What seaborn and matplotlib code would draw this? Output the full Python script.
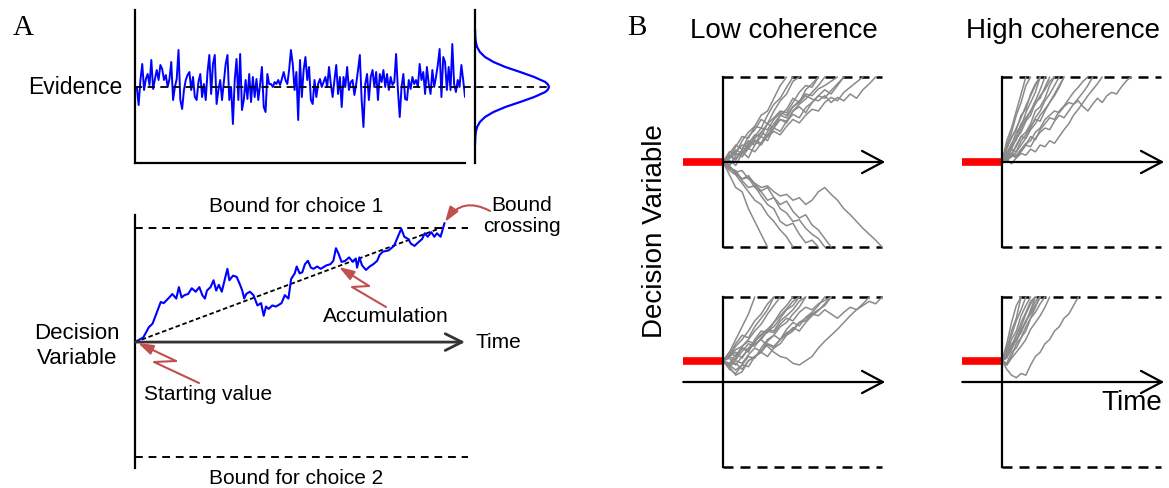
import numpy as np
import pandas as pd
import matplotlib
matplotlib.use("Agg")
import matplotlib.pyplot as plt
from matplotlib.patches import FancyArrowPatch
import seaborn as sns

W, H = 1169, 488

# ---------------- data ----------------
# panel A, momentary evidence (units of ~10 px, 0 = dashed line)
evidence = [
    0.0, -1.8, 0.7, 2.3, -0.3, 0.8, 1.3, 0.2, 2.7, -0.2,
    0.8, 1.7, 0.7, 2.2, 1.8, 0.7, 1.2, 0.0, 0.8, 2.5,
    -1.3, 0.0, 0.8, 3.7, -1.3, -2.2, -0.3, 0.7, 1.2, 1.5,
    -0.3, 1.0, -1.0, -1.3, 0.5, 1.3, -1.0, 0.3, -1.3, 1.5,
    3.2, -0.7, 2.3, 3.2, -1.7, -0.3, 0.7, -1.3, 0.5, 2.3,
    3.2, -1.3, 0.0, -3.7, 0.7, 2.8, -1.3, 3.3, -2.3, -1.3,
    0.7, -1.2, 1.3, -1.5, 1.0, -1.0, 0.8, -1.3, 0.3, 2.0,
    -2.0, -2.5, 1.3, 0.3, 0.3, 0.0, 0.5, 0.3, 0.7, 0.2,
    0.8, 1.5, 0.7, 0.3, 1.7, 3.7, 2.3, -0.3, 1.5, -3.3,
    2.7, -1.0, 1.7, 3.0, 0.7, 2.0, -1.3, -1.7, 0.7, -1.0,
    0.3, 0.8, 0.0, 0.5, 1.0, 0.0, 2.0, 0.3, -1.0, 0.7,
    2.2, -0.7, 1.0, -2.0, 1.0, 0.0, 2.0, -0.3, 0.5, 0.7,
    -0.8, 0.3, 1.7, 3.2, -1.3, -4.0, 0.3, 1.3, -1.3, 1.0,
    1.7, 0.0, 1.5, -1.3, 1.3, 0.5, 1.7, 0.0, 1.3, -0.3,
    1.0, 0.2, 0.5, 3.3, -0.3, -3.0, 0.0, 1.3, -1.2, -1.3,
    0.7, -0.2, 1.0, 0.3, 0.7, 0.0, 2.3, 0.7, 1.5, -0.7,
    2.0, 0.3, -0.7, 1.7, 0.0, 1.0, 2.2, 3.8, -1.0, 3.0,
    2.5, -0.3, 2.0, -0.3, 4.3, 0.3, -0.5, 0.7, 0.0, 2.2,
    0.7, -1.0,
]

# noise distribution drawn beside the evidence trace
gauss_level = [-5.8, -5.0, -4.5, -4.0, -3.5, -3.0, -2.5, -2.0, -1.5, -1.0, -0.5, -0.25,
               0.0, 0.25, 0.5, 1.0, 1.5, 2.0, 2.5, 3.0, 3.5, 4.0, 4.5, 5.0, 5.8]
gauss_density = [0.0, 0.004, 0.011, 0.028, 0.066, 0.135, 0.25, 0.41, 0.61, 0.80, 0.95, 0.986,
                 1.0, 0.986, 0.95, 0.80, 0.61, 0.41, 0.25, 0.135, 0.066, 0.028, 0.011, 0.004, 0.0]

# panel A, accumulated decision variable (time 0-100, bound = 1)
acc_time = [0, 2.5, 4.2, 5.3, 6.5, 7.8, 8.7, 10.4, 11.3, 12.5, 13.3, 14.1, 15.0, 16.1, 17.2,
            18.4, 19.5, 20.4, 21.2, 21.8, 22.9, 23.8, 24.6, 25.4, 26.3, 27.4, 28.0, 28.6, 29.7,
            30.8, 31.7, 32.5, 33.1, 33.7, 34.8, 35.9, 37.1, 38.2, 39.0, 39.7, 40.5, 41.6, 42.7,
            44.4, 45.4, 46.5, 47.3, 48.4, 49.0, 49.9, 50.7, 51.5, 52.4, 53.3, 54.1, 55.2, 56.3,
            58.0, 59.2, 60.1, 60.9, 61.7, 62.6, 63.7, 64.9, 66.0, 66.9, 67.3, 68.0, 68.8, 70.0,
            71.1, 72.2, 73.4, 74.1, 75.1, 76.8, 78.5, 79.8, 80.7, 81.6, 82.8, 83.6, 84.7, 85.8,
            87.0, 87.8, 88.7, 89.8, 90.7, 91.5, 92.6, 93.2, 93.8]
acc_dv = [0, 0.04, 0.13, 0.16, 0.25, 0.35, 0.34, 0.39, 0.42, 0.38, 0.48, 0.39, 0.41, 0.42, 0.47,
          0.44, 0.48, 0.41, 0.38, 0.45, 0.48, 0.54, 0.45, 0.50, 0.44, 0.57, 0.64, 0.54, 0.58,
          0.57, 0.51, 0.45, 0.38, 0.42, 0.44, 0.41, 0.32, 0.34, 0.23, 0.31, 0.29, 0.32, 0.31,
          0.34, 0.41, 0.38, 0.55, 0.60, 0.66, 0.60, 0.61, 0.68, 0.71, 0.65, 0.64, 0.66, 0.64,
          0.67, 0.68, 0.71, 0.82, 0.77, 0.70, 0.71, 0.74, 0.70, 0.73, 0.65, 0.74, 0.67, 0.63,
          0.66, 0.68, 0.71, 0.76, 0.79, 0.80, 0.84, 0.93, 0.99, 0.92, 0.90, 0.86, 0.84, 0.87,
          0.90, 0.95, 0.92, 0.96, 0.92, 0.95, 0.92, 0.98, 1.04]
drift_time = [0, 93]
drift_dv = [0, 1]

# panel B, single trials (bound = +/-1, time 0-1)
dt_low = 0.04
dt_high = 0.03
start_top = 0.0
start_bottom = 0.25

low_top = [
    [0, .08, .02, .15, .25, .2, .35, .45, .4, .55, .62, .75, .7, .85, .92, 1.0],
    [0, .1, .2, .15, .3, .38, .5, .45, .6, .72, .8, .95, 1.0],
    [0, -.05, .08, .12, .05, .2, .3, .25, .4, .5, .48, .6, .65, .58, .7, .78, .85, .8, .9, 1.0],
    [0, .05, .18, .3, .28, .42, .55, .6, .75, .9, 1.0],
    [0, .02, -.04, .1, .18, .28, .35, .3, .45, .55, .52, .65, .7, .78, .74, .72, .78, .7, .76, .72,
     .8, .75, .85, .92, 1.0],
    [0, .12, .1, .25, .35, .42, .4, .55, .68, .75, .88, 1.0],
    [0, .06, .14, .1, .22, .32, .3, .45, .52, .6, .58, .7, .82, .9, .88, 1.0],
    [0, .05, .12, .2, .18, .3, .4, .38, .5, .58, .55, .65, .72, .8, .78, .86, .9, .95, 1.0],
    [0, .04, .1, .06, .16, .24, .2, .32, .4, .36, .48, .56, .52, .64, .7, .78, .75, .84, .92, 1.0],
    [0, .07, .03, .12, .2, .26, .22, .36, .44, .5, .46, .6, .68, .74, .82, .9, 1.0],
    [0, -.03, .05, .1, .16, .12, .22, .3, .36, .32, .42, .5, .46, .55, .62, .6, .7, .76, .72, .82,
     .88, .94, 1.0],
    [0, -.15, -.3, -.35, -.55, -.7, -.85, -1.0],
    [0, -.05, -.12, -.2, -.18, -.3, -.35, -.45, -.42, -.55, -.6, -.7, -.68, -.78, -.85, -.9, -1.0],
    [0, -.08, -.1, -.22, -.3, -.28, -.4, -.5, -.55, -.7, -.75, -.72, -.85, -.95, -.92, -1.0],
    [0, -.05, -.12, -.1, -.2, -.25, -.3, -.28, -.35, -.4, -.38, -.45, -.42, -.5, -.45, -.35, -.3,
     -.38, -.45, -.55, -.62, -.7, -.78, -.85, -.92, -1.0],
    [0, -.1, -.15, -.25, -.35, -.45, -.5, -.62, -.7, -.8, -.88, -1.0],
    [0, -.06, -.14, -.2, -.16, -.26, -.34, -.3, -.42, -.5, -.46, -.58, -.66, -.62, -.74, -.8, -.9,
     -1.0],
]
high_top = [
    [0, .2, .35, .55, .7, .9, 1.0],
    [0, .15, .3, .38, .55, .62, .8, .92, 1.0],
    [0, .1, .22, .3, .45, .52, .6, .72, .85, 1.0],
    [0, .05, .15, .28, .35, .48, .55, .7, .75, .88, 1.0],
    [0, .02, .06, .12, .2, .28, .38, .45, .55, .62, .7, .8, .9, 1.0],
    [0, .1, .2, .35, .42, .58, .7, .82, 1.0],
    [0, .04, .1, .08, .15, .22, .25, .35, .4, .5, .55, .6, .58, .65, .7, .68, .72, .65, .6, .68,
     .75, .7, .78, .82, .8, .88, .95, 1.0],
    [0, .25, .4, .6, .8, 1.0],
    [0, .08, .18, .26, .4, .5, .6, .68, .78, .85, .95, 1.0],
    [0, .05, .1, .18, .3, .35, .45, .6, .65, .75, .9, 1.0],
    [0, .02, .08, .05, .12, .2, .18, .28, .35, .4, .38, .48, .55, .52, .6, .68, .75, .82, .9, 1.0],
    [0, .03, -.02, .05, .1, .08, .15, .12, .2, .18, .25, .22, .3, .38, .45, .55, .62, .7, .78, .85,
     .92, 1.0],
    [0, .06, .15, .12, .25, .32, .42, .5, .48, .6, .7, .78, .88, 1.0],
    [0, .12, .08, .2, .3, .28, .4, .52, .6, .72, .8, .9, 1.0],
    [0, .03, .09, .06, .14, .2, .3, .26, .38, .45, .52, .5, .6, .66, .74, .82, .88, .95, 1.0],
    [0, .18, .28, .4, .52, .66, .78, .9, 1.0],
]
low_bottom = [
    [.25, .35, .5, .65, .8, 1.0],
    [.25, .3, .42, .5, .6, .72, .8, .92, 1.0],
    [.25, .2, .28, .4, .35, .5, .6, .58, .7, .82, .9, 1.0],
    [.25, .15, .1, .2, .3, .28, .4, .5, .55, .65, .7, .8, .88, 1.0],
    [.25, .18, .08, .12, .25, .3, .35, .3, .4, .45, .55, .6, .7, .72, .8, .85, .9, 1.0],
    [.25, .3, .35, .28, .4, .48, .55, .62, .6, .72, .78, .85, .95, 1.0],
    [.25, .2, .22, .15, .25, .3, .35, .45, .42, .5, .58, .62, .7, .75, .8, .78, .85, .8, .75, .82,
     .88, .85, .9, .95, .92, 1.0],
    [.25, .32, .45, .55, .52, .65, .75, .85, 1.0],
    [.25, .28, .2, .3, .38, .45, .5, .6, .65, .75, .85, .9, 1.0],
    [.25, .3, .38, .42, .48, .45, .5, .42, .35, .3, .28, .22, .2, .25, .3, .4, .48, .55, .62, .7,
     .78, .85, .92, 1.0],
    [.25, .22, .32, .4, .38, .48, .56, .62, .7, .78, .86, .95, 1.0],
    [.25, .18, .25, .22, .32, .4, .36, .48, .55, .5, .62, .7, .66, .76, .82, .9, 1.0],
    [.25, .35, .3, .42, .5, .6, .68, .8, .9, 1.0],
    [.25, .2, .14, .2, .18, .3, .36, .44, .4, .5, .56, .64, .6, .7, .78, .84, .92, 1.0],
    [.25, .3, .26, .36, .45, .42, .52, .6, .58, .68, .75, .72, .82, .88, .85, .92, .96, 1.0],
]
high_bottom = [
    [.25, .45, .7, .9, 1.0],
    [.25, .4, .55, .72, .85, 1.0],
    [.25, .35, .5, .6, .78, .9, 1.0],
    [.25, .3, .42, .55, .65, .8, .92, 1.0],
    [.25, .2, .3, .45, .52, .65, .75, .88, 1.0],
    [.25, .15, .08, .05, .1, .08, .2, .3, .35, .45, .5, .6, .65, .75, .8, .9, 1.0],
    [.25, .38, .6, .75, 1.0],
    [.25, .28, .4, .5, .62, .7, .85, 1.0],
    [.25, .32, .45, .48, .6, .72, .82, .95, 1.0],
    [.25, .35, .42, .55, .7, .82, .95, 1.0],
    [.25, .22, .35, .4, .52, .6, .75, .82, .92, 1.0],
    [.25, .3, .38, .5, .58, .72, .8, .9, 1.0],
    [.25, .2, .28, .35, .42, .5, .62, .7, .78, .88, 1.0],
]

# ---------------- styling ----------------
sns.set_style("white")
plt.rcParams["font.family"] = ["Liberation Sans", "DejaVu Sans"]
plt.rcParams["text.color"] = "black"
serif = ["Liberation Serif", "DejaVu Serif"]
arrow_red = "#c0504d"
trial_gray = "#8a8a8a"
red_head = "-|>,head_length=0.9,head_width=0.3"

fig = plt.figure(figsize=(W / 100, H / 100), dpi=100)


def px_axes(x0, y0, x1, y1, spines=()):
    ax = fig.add_axes([x0 / W, 1 - y1 / H, (x1 - x0) / W, (y1 - y0) / H])
    ax.set_xticks([])
    ax.set_yticks([])
    ax.patch.set_alpha(0)
    for name, sp in ax.spines.items():
        sp.set_visible(name in spines)
        sp.set_color("black")
        sp.set_linewidth(1.6)
    return ax


# ---- A: evidence ----
ax_ev = px_axes(135, 10, 465, 163, spines=("left", "bottom"))
sns.lineplot(x=np.arange(len(evidence)), y=evidence, ax=ax_ev, color="blue", lw=1.4)
ax_ev.set_xlim(-1, len(evidence) - 1)
ax_ev.set_ylim(-7.6, 7.7)
ax_ev.axhline(0, xmin=0, xmax=(549 - 135) / (465 - 135), color="black", lw=1.3,
              dashes=(4, 3), clip_on=False, zorder=5)

ax_g = px_axes(475, 10, 549, 163, spines=("left",))
sns.lineplot(x=gauss_density, y=gauss_level, sort=False, estimator=None, orient="y",
             ax=ax_g, color="blue", lw=1.6)
ax_g.set_xlim(0, 1)
ax_g.set_ylim(-7.6, 7.7)
for ln in ax_g.lines:
    ln.set_clip_on(False)

# ---- A: decision variable ----
ax_dv = px_axes(135, 215, 465, 468, spines=("left",))
ax_dv.set_xlim(0, 100)
ax_dv.set_ylim(-1.10, 1.11)
for b in (1, -1):
    ax_dv.axhline(b, xmax=1.01, color="black", lw=1.4, dashes=(4, 3), clip_on=False)
ax_dv.annotate("", xy=(100, 0), xytext=(0, 0),
               arrowprops=dict(arrowstyle="->,head_length=0.6,head_width=0.3", color="#333333",
                               lw=2, mutation_scale=20, shrinkA=0, shrinkB=0))
ax_dv.plot(drift_time, drift_dv, color="black", lw=1.3, dashes=(2.5, 1.5))
sns.lineplot(x=acc_time, y=acc_dv, ax=ax_dv, color="blue", lw=1.5)
for ln in ax_dv.lines:
    ln.set_clip_on(False)

# ---- B: single trials ----
rows = []
for panel, traces, dt in [("low_top", low_top, dt_low), ("high_top", high_top, dt_high),
                          ("low_bottom", low_bottom, dt_low), ("high_bottom", high_bottom, dt_high)]:
    for k, tr in enumerate(traces):
        for i, v in enumerate(tr):
            rows.append((panel, k, i * dt, v))
trials = pd.DataFrame(rows, columns=["panel", "trial", "time", "dv"])

box_x = {"low": (723, 882), "high": (1002, 1161)}
box_y = {"top": (77, 247), "bottom": (297, 467)}
starts = {"top": start_top, "bottom": start_bottom}

for coh in ("low", "high"):
    for row in ("top", "bottom"):
        x0, x1 = box_x[coh]
        y0, y1 = box_y[row]
        ax = px_axes(x0, y0, x1, y1, spines=("left",))
        ax.set_xlim(0, 1)
        ax.set_ylim(-1, 1)
        for b in (1, -1):
            ax.axhline(b, color="black", lw=1.8, dashes=(4, 2.8), clip_on=False)
        sub = trials[trials["panel"] == f"{coh}_{row}"]
        sns.lineplot(data=sub, x="time", y="dv", units="trial", estimator=None,
                     color=trial_gray, lw=1.1, ax=ax, legend=False)
        for ln in ax.lines:
            ln.set_clip_on(False)
        ax.set_xlabel("")
        ax.set_ylabel("")
        s = starts[row]
        ax.plot([-0.25, 0], [s, s], color="red", lw=5.5, solid_capstyle="butt", clip_on=False)
        ax.annotate("", xy=(1.02, 0), xytext=(0 if row == "top" else -0.25, 0),
                    arrowprops=dict(arrowstyle="->,head_length=0.6,head_width=0.32", color="black",
                                    lw=1.6, mutation_scale=25, shrinkA=0, shrinkB=0),
                    annotation_clip=False)

# ---- overlay: labels and red pointers (pixel coordinates) ----
ov = px_axes(0, 0, W, H)
ov.set_xlim(0, W)
ov.set_ylim(H, 0)

ov.text(23, 28, "A", family=serif, fontsize=21, ha="center", va="center")
ov.text(637, 28, "B", family=serif, fontsize=21, ha="center", va="center")
ov.text(75, 87, "Evidence", fontsize=16.5, ha="center", va="center")
ov.text(77, 346, "Decision\nVariable", fontsize=16, ha="center", va="center", linespacing=1.2)
ov.text(296, 206, "Bound for choice 1", fontsize=15, ha="center", va="center")
ov.text(296, 478, "Bound for choice 2", fontsize=15, ha="center", va="center")
ov.text(522, 216, "Bound\ncrossing", fontsize=15, ha="center", va="center", linespacing=1.15)
ov.text(386, 317, "Accumulation", fontsize=15, ha="center", va="center")
ov.text(208, 395, "Starting value", fontsize=15, ha="center", va="center")
ov.text(476, 343, "Time", fontsize=15, ha="left", va="center")
ov.text(784, 31, "Low coherence", fontsize=20, ha="center", va="center")
ov.text(1063, 31, "High coherence", fontsize=20, ha="center", va="center")
ov.text(655, 231, "Decision Variable", fontsize=20, ha="center", va="center", rotation=90)
ov.text(1132, 403, "Time", fontsize=20, ha="center", va="center")


def zigzag(points):
    xs, ys = zip(*points)
    ov.plot(xs[:-1], ys[:-1], color=arrow_red, lw=1.5)
    ov.annotate("", xy=points[-1], xytext=points[-2],
                arrowprops=dict(arrowstyle=red_head, color=arrow_red,
                                lw=1.5, mutation_scale=10, shrinkA=0, shrinkB=0))


zigzag([(199, 383), (154, 362), (176, 361), (138, 343)])
zigzag([(386, 307), (352, 287), (369, 286), (339, 267)])
ov.add_patch(FancyArrowPatch((490, 211), (445, 222), connectionstyle="arc3,rad=0.45",
                             arrowstyle=red_head, mutation_scale=10,
                             color=arrow_red, lw=1.5, shrinkA=0, shrinkB=0))

fig.savefig("out.png", dpi=100)
